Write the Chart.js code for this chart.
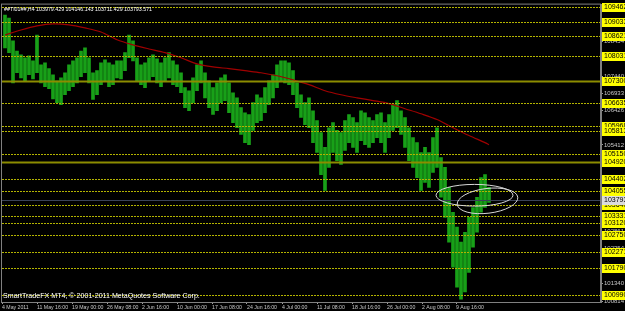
<!DOCTYPE html>
<html>
<head>
<meta charset="utf-8">
<script src="https://cdn.jsdelivr.net/npm/chart.js@4"></script>
<style>
  body { margin: 0; background: #000; }
</style>
</head>
<body>
<canvas id="myChart" width="625" height="311"></canvas>
<script>
// H4 bars (highs / lows per bar)
const highs = [109240, 109150, 108480, 108180, 108070, 107980, 108040, 107890, 108650, 107770,
  107830, 107660, 107480, 107300, 107390, 107540, 107770, 107890, 107980, 108180,
  108270, 107980, 107540, 107600, 107830, 107920, 107830, 107770, 107890, 107890,
  108130, 108650, 108480, 107980, 107770, 107830, 107980, 108070, 107950, 107830,
  107980, 108130, 107890, 107770, 107540, 107100, 107010, 107390, 107770, 107890,
  107540, 107300, 107100, 107240, 107390, 107480, 107240, 106950, 106800, 106510,
  106360, 106310, 106660, 106890, 106800, 107100, 107300, 107480, 107770, 107890,
  107890, 107830, 107600, 107240, 106890, 106660, 106800, 106420, 106130, 105780,
  105340, 105920, 106070, 105840, 105780, 106130, 106310, 106220, 106070, 106420,
  106360, 106220, 106130, 106310, 106360, 106070, 106310, 106600, 106720, 106420,
  106220, 105920, 105630, 105480, 105190, 105340, 105190, 105630, 105920, 105040,
  104750, 104160, 103430, 102990, 102550, 102840, 103280, 103570, 103870, 104450,
  104540, 104160]
const lows = [108270, 108130, 107240, 107540, 107390, 107300, 107480, 107360, 107540, 107240,
  107130, 107070, 106770, 106660, 106600, 106890, 107010, 107130, 107240, 107420,
  107540, 107240, 106750, 106890, 107190, 107300, 107130, 107190, 107390, 107360,
  107600, 107980, 107890, 107300, 107190, 107100, 107300, 107420, 107240, 107130,
  107300, 107390, 107190, 107130, 106950, 106510, 106420, 106660, 107010, 107240,
  106800, 106510, 106310, 106420, 106660, 106720, 106360, 106070, 105920, 105720,
  105480, 105420, 105840, 106070, 106130, 106360, 106600, 106800, 107100, 107300,
  107240, 107190, 106890, 106510, 106220, 106010, 105920, 105480, 105190, 104540,
  104070, 104750, 105190, 104950, 104840, 105250, 105480, 105340, 105190, 105540,
  105420, 105340, 105480, 105630, 105480, 105190, 105630, 105840, 105920, 105720,
  105340, 104950, 104750, 104450, 104070, 104310, 104160, 104600, 104750, 103870,
  103280, 102550, 101810, 101220, 100870, 101080, 101660, 102400, 102840, 103430,
  103570, 103720]

// moving average (red)
const maBars = [0, 4, 8, 12, 16, 20, 24, 28, 32, 36, 40, 44, 48, 52, 56, 60,
  64, 68, 72, 76, 80, 84, 88, 92, 96, 100, 104, 108, 112, 116, 120, 121]
const maValues = [108650, 108800, 108920, 108980, 108950, 108860, 108740, 108510, 108360, 108240,
  108130, 107980, 107800, 107710, 107660, 107600, 107540, 107450, 107330, 107190,
  107010, 106890, 106800, 106720, 106630, 106480, 106330, 106160, 105920, 105690,
  105480, 105420]

// horizontal line objects (yellow) and their price tags
const levels = [109462, 109033, 108621, 108031, 107300, 106635, 105968, 105813, 105150, 104920,
  104402, 104055, 103640, 103331, 103120, 102750, 102271, 101790, 100990]
const heavyLevels = [107300, 104920]

const lastPrice = 103793
const title = '##TI01##,H4 103979.429 104146.143 103711.429 103793.571'
const copyright = 'SmartTradeFX MT4, \u00a9 2001-2011 MetaQuotes Software Corp.'

// price scale ticks
const priceTicks = [100814, 101340, 101843, 102354, 102861, 103368, 103875, 104382, 104889,
  105412, 105919, 106426, 106933, 107440, 107947, 108454, 108961, 109468]

// time scale (bar index -> label)
const dateBars = [-0.75, 8, 16.75, 25.5, 34.25, 43, 51.75, 60.5, 69.25, 78, 86.75, 95.5, 104.25, 112.75]
const dateLabels = ['4 May 2011', '11 May 16:00', '19 May 00:00', '26 May 08:00', '2 Jun 16:00',
  '10 Jun 00:00', '17 Jun 08:00', '24 Jun 16:00', '4 Jul 00:00', '11 Jul 08:00',
  '18 Jul 16:00', '26 Jul 00:00', '2 Aug 08:00', '9 Aug 16:00']

// hand drawn ellipses (bar range, price range)
const ellipses = [
  { from: 107.75, to: 127, top: 104250, bottom: 103610, rot: 0 },
  { from: 113, to: 128.25, top: 104130, bottom: 103400, rot: -0.12 }
]

const FONT = 'Liberation Sans'

const overlay = {
  id: 'overlay',
  afterDatasetsDraw(chart) {
    const { ctx, chartArea: a, scales: { x, y } } = chart
    ctx.save()
    ctx.beginPath()
    ctx.rect(a.left, a.top, a.right - a.left, a.bottom - a.top)
    ctx.clip()

    // bid line
    const py = Math.round(y.getPixelForValue(lastPrice)) + 0.5
    ctx.strokeStyle = '#3a4258'
    ctx.lineWidth = 1
    ctx.beginPath()
    ctx.moveTo(a.left, py)
    ctx.lineTo(a.right, py)
    ctx.stroke()

    levels.forEach(v => {
      const heavy = heavyLevels.includes(v)
      const ly = Math.round(y.getPixelForValue(v)) + 0.5
      ctx.strokeStyle = heavy ? '#8c8c00' : '#b4b400'
      ctx.lineWidth = heavy ? 2 : 1
      ctx.setLineDash(heavy ? [] : [2, 1])
      ctx.beginPath()
      ctx.moveTo(a.left, ly)
      ctx.lineTo(a.right, ly)
      ctx.stroke()
    })
    ctx.setLineDash([])

    ctx.strokeStyle = '#d8d8d8'
    ctx.lineWidth = 1
    ellipses.forEach(e => {
      const x0 = x.getPixelForValue(e.from)
      const x1 = x.getPixelForValue(e.to)
      const y0 = y.getPixelForValue(e.top)
      const y1 = y.getPixelForValue(e.bottom)
      ctx.beginPath()
      ctx.ellipse((x0 + x1) / 2, (y0 + y1) / 2, (x1 - x0) / 2, (y1 - y0) / 2, e.rot, 0, Math.PI * 2)
      ctx.stroke()
    })
    ctx.restore()
  },
  afterDraw(chart) {
    const { ctx, chartArea: a, scales: { y } } = chart
    ctx.save()
    // frame
    ctx.strokeStyle = '#808080'
    ctx.lineWidth = 1
    ctx.strokeRect(a.left - 0.5, a.top - 0.5, a.right - a.left, a.bottom - a.top + 1)

    // price tags
    ctx.font = '7px ' + FONT
    ctx.textBaseline = 'middle'
    levels.forEach(v => {
      const ly = Math.round(y.getPixelForValue(v))
      ctx.fillStyle = '#ffff00'
      ctx.fillRect(a.right + 1, ly - 4, 30, 9)
      ctx.fillStyle = '#000'
      ctx.fillText(String(v), a.right + 3, ly + 0.5)
    })
    const py = Math.round(y.getPixelForValue(lastPrice))
    ctx.fillStyle = '#dcdcdc'
    ctx.fillRect(a.right + 1, py - 4, 30, 9)
    ctx.fillStyle = '#000'
    ctx.fillText(String(lastPrice), a.right + 3, py + 0.5)

    // texts
    ctx.fillStyle = '#ffffff'
    ctx.font = '5.3px ' + FONT
    ctx.fillText(title, a.left + 2, a.top + 5)
    ctx.font = '7.1px ' + FONT
    ctx.fillText(copyright, a.left + 1, a.bottom - 6)
    ctx.restore()
  }
}

const data = {
  datasets: [
    {
      type: 'line',
      label: 'MA',
      data: maBars.map((b, i) => ({ x: b, y: maValues[i] })),
      borderColor: '#a00000',
      borderWidth: 1.2,
      pointRadius: 0,
      tension: 0.3,
      order: 0
    },
    {
      type: 'bar',
      label: 'bars',
      data: highs.map((h, i) => ({ x: i, y: [lows[i], h] })),
      backgroundColor: 'rgb(24,160,24)',
      barThickness: 3,
      order: 1
    }
  ]
}

const config = {
  data: data,
  options: {
    responsive: false,
    animation: false,
    devicePixelRatio: 1,
    layout: { padding: { top: 1, left: 2, right: 0, bottom: 0 } },
    plugins: {
      legend: { display: false },
      tooltip: { enabled: false }
    },
    scales: {
      x: {
        type: 'linear',
        offset: false,
        min: -0.75,
        max: 149,
        afterBuildTicks: scale => { scale.ticks = dateBars.map(v => ({ value: v })) },
        afterFit: scale => { scale.height = 9 },
        grid: { offset: false, drawOnChartArea: false, color: '#a0a0a0', tickLength: 2 },
        border: { color: '#808080' },
        ticks: {
          autoSkip: false,
          maxRotation: 0,
          align: 'start',
          padding: 0,
          color: '#c8c8c8',
          font: { family: FONT, size: 5.2 },
          callback: (v, i) => dateLabels[i]
        }
      },
      y: {
        position: 'right',
        min: 100785,
        max: 109547,
        afterBuildTicks: scale => { scale.ticks = priceTicks.map(v => ({ value: v })) },
        afterFit: scale => { scale.width = 24 },
        grid: { drawOnChartArea: false, color: '#a0a0a0', tickLength: 2 },
        border: { color: '#808080' },
        ticks: {
          padding: 1,
          color: '#c8c8c8',
          font: { family: FONT, size: 6 },
          callback: v => String(v)
        }
      }
    }
  },
  plugins: [overlay]
}

const myChart = new Chart(document.getElementById('myChart'), config)
</script>
</body>
</html>
